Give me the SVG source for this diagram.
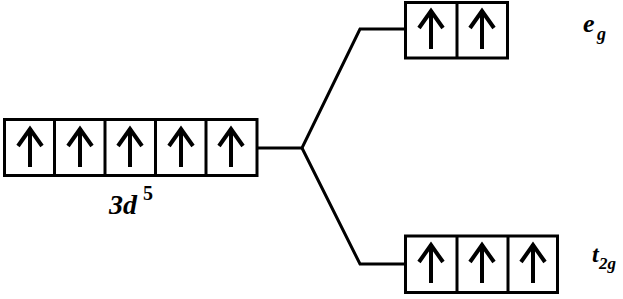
<svg xmlns="http://www.w3.org/2000/svg" width="623" height="299" viewBox="0 0 623 299">
<defs>
<style>
.box{fill:#fff;stroke:#000;stroke-width:3}
.div{stroke:#000;stroke-width:3}
.arr{fill:none;stroke:#000;stroke-width:4;stroke-linecap:butt;stroke-linejoin:miter}
.conn{fill:none;stroke:#000;stroke-width:3}
text{font-family:'Liberation Serif','Times New Roman',Times,serif;fill:#000;font-weight:bold}
.it{font-style:italic}
</style>
<g id="up">
<path class="arr" d="M0,19 L0,-20 M-12,-2 L0,-19 L12,-2"/>
</g>
</defs>
<rect width="623" height="299" fill="#fff"/>
<g id="connectors">
<path class="conn" d="M257,148 L302,148 L360,29 L405,29"/>
<path class="conn" d="M302,148 L360,264 L405,264"/>
</g>
<g id="node-3d">
<rect class="box" x="4.5" y="119.5" width="252.5" height="56"/>
<line class="div" x1="54.5" y1="119.5" x2="54.5" y2="175.5"/>
<line class="div" x1="105" y1="119.5" x2="105" y2="175.5"/>
<line class="div" x1="155.5" y1="119.5" x2="155.5" y2="175.5"/>
<line class="div" x1="206" y1="119.5" x2="206" y2="175.5"/>
<use href="#up" x="30" y="148"/>
<use href="#up" x="80" y="148"/>
<use href="#up" x="130" y="148"/>
<use href="#up" x="181" y="148"/>
<use href="#up" x="231" y="148"/>
<text class="it" x="109" y="214" font-size="28">3d</text>
<text x="143" y="200" font-size="20">5</text>
</g>
<g id="node-eg">
<rect class="box" x="405.5" y="2.5" width="102" height="55.5"/>
<line class="div" x1="457" y1="2.5" x2="457" y2="58"/>
<use href="#up" x="431" y="30"/>
<use href="#up" x="482" y="30"/>
<text class="it" x="583" y="32" font-size="26">e</text>
<text class="it" x="597" y="40" font-size="18">g</text>
</g>
<g id="node-t2g">
<rect class="box" x="405.5" y="236" width="152" height="56.5"/>
<line class="div" x1="457" y1="236" x2="457" y2="292.5"/>
<line class="div" x1="508" y1="236" x2="508" y2="292.5"/>
<use href="#up" x="431" y="264"/>
<use href="#up" x="482" y="264"/>
<use href="#up" x="533" y="264"/>
<text class="it" x="592" y="262" font-size="24">t</text>
<text class="it" x="599" y="269" font-size="17">2g</text>
</g>
</svg>
